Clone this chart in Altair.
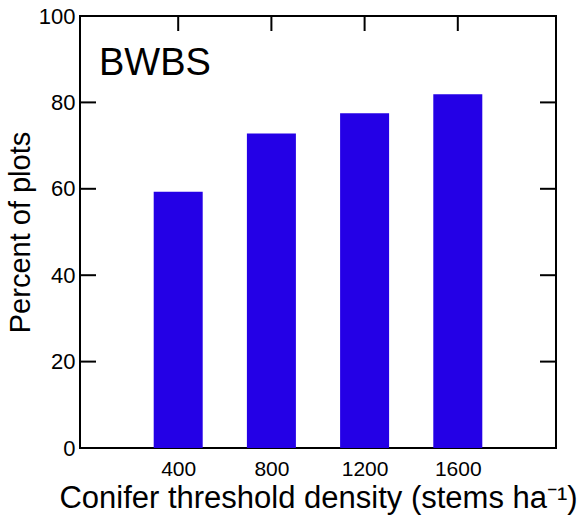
import altair as alt
import pandas as pd

densities = [400, 800, 1200, 1600]
percents = [59.3, 72.8, 77.5, 81.9]
y_ticks = [0, 20, 40, 60, 80, 100]
panel_label = "BWBS"

bars_df = pd.DataFrame({"density": densities, "percent": percents})
ytick_df = pd.DataFrame({"percent": y_ticks})
xtick_df = pd.DataFrame({"density": densities})
label_df = pd.DataFrame({"label": [panel_label]})

FONT = "Liberation Sans"

xscale = alt.Scale(domain=[0, 2000], nice=False, zero=False)
yscale = alt.Scale(domain=[0, 100], nice=False)

bars = alt.Chart(bars_df).mark_bar(size=49, color="#2400E6").encode(
    x=alt.X("density:Q", scale=xscale,
            axis=alt.Axis(values=densities, format="d", ticks=False, domain=False, grid=False,
                          labelFont=FONT, labelFontSize=21, labelColor="black",
                          labelPadding=10, title="Conifer threshold density (stems ha\u207b\u00b9)",
                          titleFont=FONT, titleFontSize=31, titleFontWeight="normal",
                          titleColor="black", titlePadding=4)),
    y=alt.Y("percent:Q", scale=yscale,
            axis=alt.Axis(values=y_ticks, format="d", ticks=False, domain=False, grid=False,
                          labelFont=FONT, labelFontSize=22, labelColor="black",
                          labelPadding=5, title="Percent of plots",
                          titleFont=FONT, titleFontSize=29, titleFontWeight="normal",
                          titleColor="black", titlePadding=3)),
)

left_ticks = alt.Chart(ytick_df).mark_rule(color="black", strokeWidth=2).encode(
    y=alt.Y("percent:Q", scale=yscale), x=alt.value(0), x2=alt.value(16))
right_ticks = alt.Chart(ytick_df).mark_rule(color="black", strokeWidth=2).encode(
    y=alt.Y("percent:Q", scale=yscale), x=alt.value(460), x2=alt.value(476))
top_ticks = alt.Chart(xtick_df).mark_rule(color="black", strokeWidth=2).encode(
    x=alt.X("density:Q", scale=xscale), y=alt.value(0), y2=alt.value(15))

label = alt.Chart(label_df).mark_text(
    font=FONT, fontSize=38, align="left", baseline="alphabetic",
    color="black").encode(text="label:N", x=alt.value(19), y=alt.value(59))

chart = alt.layer(bars, left_ticks, right_ticks, top_ticks, label).properties(
    width=476, height=432,
    autosize=alt.AutoSizeParams(type="none"),
    padding={"left": 80, "top": 16, "right": 23, "bottom": 75},
).configure_view(stroke="black", strokeWidth=2)

chart.save("out.html", embed_options={"renderer": "svg", "actions": False})
